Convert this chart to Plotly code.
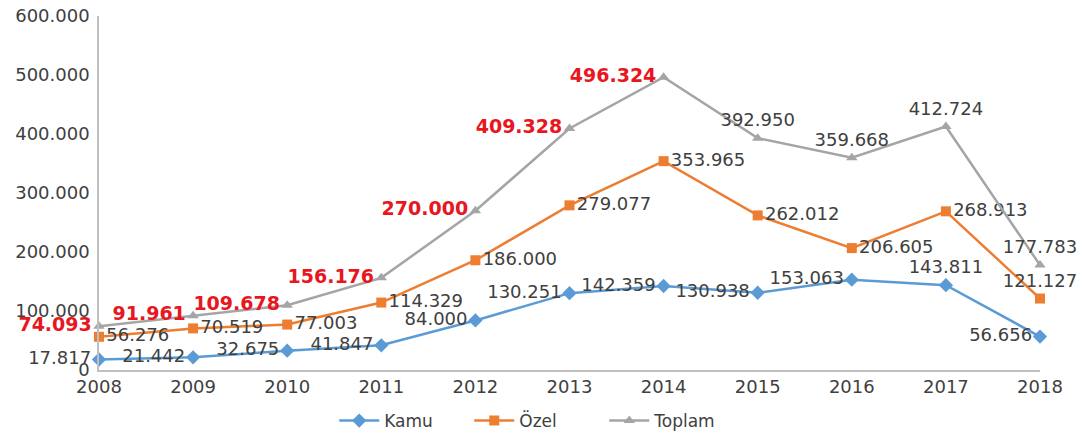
import plotly.graph_objects as go

years = [2008, 2009, 2010, 2011, 2012, 2013, 2014, 2015, 2016, 2017, 2018]
kamu = [17817, 21442, 32675, 41847, 84000, 130251, 142359, 130938, 153063, 143811, 56656]
ozel = [56276, 70519, 77003, 114329, 186000, 279077, 353965, 262012, 206605, 268913, 121127]
toplam = [74093, 91961, 109678, 156176, 270000, 409328, 496324, 392950, 359668, 412724, 177783]
series_names = ["Kamu", "Özel", "Toplam"]
y_ticks = [0, 100000, 200000, 300000, 400000, 500000, 600000]

highlight_years = [2008, 2009, 2010, 2011, 2012, 2013, 2014]

def fmt(v):
    return f"{v:,}".replace(",", ".")

kamu_pos = ["middle left"] * 9 + ["top center", "middle left"]
ozel_pos = ["middle right"] * 10 + ["top center"]
top_pos = ["middle left"] * 7 + ["top center"] * 4

RED = "#E8161E"
TXT = "#404040"
LBL = 18

top_text = [f"<b>{fmt(v)}</b>" if y in highlight_years else fmt(v) for y, v in zip(years, toplam)]
top_colors = [RED if y in highlight_years else TXT for y in years]
top_sizes = [19 if y in highlight_years else LBL for y in years]

fig = go.Figure()
fig.add_trace(go.Scatter(
    x=years, y=kamu, name=series_names[0], mode="lines+markers+text",
    line=dict(color="#5B9BD5", width=2.5),
    marker=dict(symbol="diamond", size=11, color="#5B9BD5"),
    text=[fmt(v) for v in kamu], textposition=kamu_pos,
    textfont=dict(family="DejaVu Sans", size=LBL, color=TXT),
    cliponaxis=False,
))
fig.add_trace(go.Scatter(
    x=years, y=ozel, name=series_names[1], mode="lines+markers+text",
    line=dict(color="#ED7D31", width=2.5),
    marker=dict(symbol="square", size=10, color="#ED7D31"),
    text=[fmt(v) for v in ozel], textposition=ozel_pos,
    textfont=dict(family="DejaVu Sans", size=LBL, color=TXT),
    cliponaxis=False,
))
fig.add_trace(go.Scatter(
    x=years, y=toplam, name=series_names[2], mode="lines+markers+text",
    line=dict(color="#A5A5A5", width=2.5),
    marker=dict(symbol="triangle-up", size=10, color="#A5A5A5"),
    text=top_text, textposition=top_pos,
    textfont=dict(family="DejaVu Sans", size=top_sizes, color=top_colors),
    cliponaxis=False,
))

fig.update_layout(
    width=1090, height=434,
    margin=dict(l=99, r=50, t=16, b=64, autoexpand=False),
    paper_bgcolor="white", plot_bgcolor="white",
    separators=",.",
    font=dict(family="DejaVu Sans", size=LBL, color=TXT),
    showlegend=True,
    legend=dict(orientation="h", x=0.25, xanchor="left", y=-0.144, yanchor="middle",
                font=dict(size=17, color=TXT), itemwidth=40,
                entrywidth=80, entrywidthmode="pixels"),
    xaxis=dict(range=[2008, 2018], tickvals=years, ticktext=[str(y) for y in years],
               automargin=False, ticklabeloverflow="allow",
               showgrid=False, zeroline=False, showline=True, linecolor="#BFBFBF",
               linewidth=1.5, ticks="", tickfont=dict(size=18, color=TXT)),
    yaxis=dict(range=[0, 600000], tickvals=y_ticks, tickformat=",d",
               automargin=False, ticklabeloverflow="allow",
               showgrid=False, zeroline=False, showline=True, linecolor="#BFBFBF",
               linewidth=1.5, ticks="", ticklabelstandoff=4,
               tickfont=dict(size=18, color=TXT)),
)

fig.write_html(
    "out.html",
    config={"displayModeBar": False},
    post_script="document.body.style.margin='0';document.body.style.overflow='hidden';",
)
